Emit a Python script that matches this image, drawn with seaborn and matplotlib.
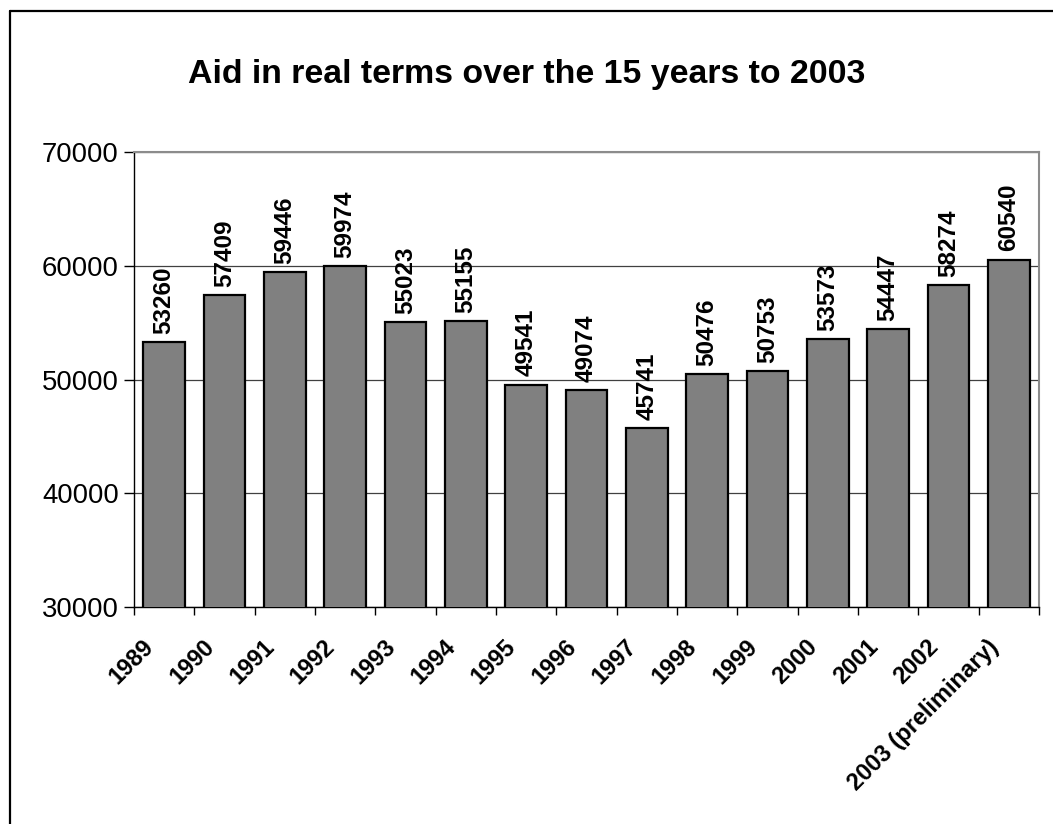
import matplotlib
matplotlib.use("Agg")
import matplotlib.pyplot as plt
import matplotlib.transforms as mtransforms
import seaborn as sns
import pandas as pd
from matplotlib.lines import Line2D
from matplotlib.ticker import FixedLocator

years = ["1989", "1990", "1991", "1992", "1993", "1994", "1995", "1996", "1997",
         "1998", "1999", "2000", "2001", "2002", "2003 (preliminary)"]
aid = [53260, 57409, 59446, 59974, 55023, 55155, 49541, 49074, 45741,
       50476, 50753, 53573, 54447, 58274, 60540]
yticks = [30000, 40000, 50000, 60000, 70000]
title = "Aid in real terms over the 15 years to 2003"

sns.set_theme(style="white")
plt.rcParams["font.family"] = ["Liberation Sans", "DejaVu Sans"]
plt.rcParams["text.color"] = "black"
plt.rcParams["xtick.color"] = "black"
plt.rcParams["ytick.color"] = "black"
plt.rcParams["axes.labelcolor"] = "black"

df = pd.DataFrame({"year": years, "aid": aid})

fig = plt.figure(figsize=(10.53, 8.24), dpi=100)
ax = fig.add_axes([134 / 1053, 1 - 607 / 824, (1039 - 134) / 1053, (607 - 152) / 824])

sns.barplot(data=df, x="year", y="aid", ax=ax, color="#808080", saturation=1,
            width=0.69, edgecolor="black", linewidth=1.6, zorder=3)

ax.set_ylim(30000, 70000)
ax.set_xlim(-0.5, len(years) - 0.5)
ax.set_yticks(yticks)
ax.set_yticklabels([str(v) for v in yticks], fontsize=19.8, color="black")
ax.grid(axis="y", color="#404040", linewidth=0.9, zorder=0)
ax.grid(axis="x", visible=False)

# x ticks: labels at centres, tick marks at category boundaries
ax.set_xticks(range(len(years)))
ax.set_xticklabels(years, rotation=45, ha="right", rotation_mode="anchor",
                   fontsize=17, fontweight="bold", color="black")
ax.tick_params(axis="x", which="major", length=0, pad=8)
ax.xaxis.set_minor_locator(FixedLocator([i - 0.5 for i in range(len(years) + 1)]))
ax.tick_params(axis="x", which="minor", bottom=True, length=6, width=1, color="black",
               direction="out")
ax.tick_params(axis="y", left=True, length=7, width=1, color="black", direction="out", pad=4)
ax.set_xlabel("")
ax.set_ylabel("")

shift = mtransforms.ScaledTranslation(-22 / 100, -17 / 100, fig.dpi_scale_trans)
for lab in ax.get_xticklabels():
    lab.set_transform(lab.get_transform() + shift)

for side in ["left", "bottom"]:
    ax.spines[side].set_color("black")
    ax.spines[side].set_linewidth(1.0)
for side in ["top", "right"]:
    ax.spines[side].set_visible(True)
    ax.spines[side].set_color("#8c8c8c")
    ax.spines[side].set_linewidth(1.5)

for i, v in enumerate(aid):
    ax.annotate(str(v), xy=(i, v), xytext=(0, 6), textcoords="offset points",
                rotation=90, ha="center", va="bottom", fontsize=17.5, fontweight="bold",
                color="black")

fig.text(0.5, 1 - 75 / 824, title, ha="center", va="center", fontsize=24.4,
         fontweight="bold", color="black")

# outer chart border (left and top visible)
bx = 9.5 / 1053
by = 1 - 10.5 / 824
fig.add_artist(Line2D([bx, bx], [0, by], transform=fig.transFigure, color="black", linewidth=1.6))
fig.add_artist(Line2D([bx, 1], [by, by], transform=fig.transFigure, color="black", linewidth=1.6))

fig.savefig("out.png", dpi=100, facecolor="white")
